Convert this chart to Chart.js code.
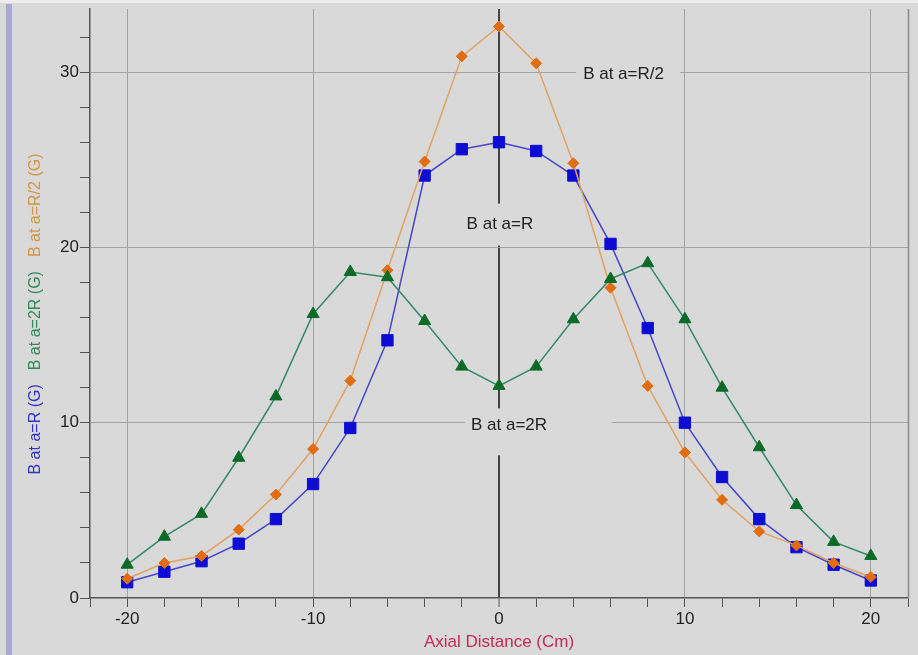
<!DOCTYPE html>
<html>
<head>
<meta charset="utf-8">
<script src="https://cdn.jsdelivr.net/npm/chart.js@4.4.1/dist/chart.umd.min.js"></script>
<style>
  html, body { margin: 0; padding: 0; background: #d9d9d9; }
  #wrap { position: relative; width: 918px; height: 655px; border-top: 3px solid #ececec; box-sizing: border-box; }
  #stripe { position: absolute; left: 6px; top: 1px; width: 6px; height: 651px; background: #a9a9d6; }
  canvas { position: absolute; left: 0; top: -3px; }
</style>
</head>
<body>
<div id="wrap">
  <div id="stripe"></div>
  <canvas id="field" width="918" height="655"></canvas>
</div>
<script>
const distance = [-20, -18, -16, -14, -12, -10, -8, -6, -4, -2, 0, 2, 4, 6, 8, 10, 12, 14, 16, 18, 20];
const fieldR = [0.9, 1.5, 2.1, 3.1, 4.5, 6.5, 9.7, 14.7, 24.1, 25.6, 26.0, 25.5, 24.1, 20.2, 15.4, 10.0, 6.9, 4.5, 2.9, 1.9, 1.0];
const fieldHalfR = [1.1, 2.0, 2.4, 3.9, 5.9, 8.5, 12.4, 18.7, 24.9, 30.9, 32.6, 30.5, 24.8, 17.7, 12.1, 8.3, 5.6, 3.8, 3.0, 2.0, 1.2];
const field2R = [1.9, 3.5, 4.8, 8.0, 11.5, 16.2, 18.6, 18.3, 15.8, 13.2, 12.1, 13.2, 15.9, 18.2, 19.1, 15.9, 12.0, 8.6, 5.3, 3.2, 2.4];
const xTickLabels = [-20, -10, 0, 10, 20];
const yTickLabels = [0, 10, 20, 30];

const font = 'Liberation Sans, Arial, sans-serif';
const bg = '#d9d9d9';

function toPoints(values) {
    return distance.map((x, i) => ({ x: x, y: values[i] }));
}

// labels over the curves, boxes hide the grid behind them
const curveLabels = {
    id: 'curveLabels',
    beforeDatasetsDraw(chart) {
        const { ctx, scales } = chart;
        const items = [
            { text: 'B at a=R/2', x: 6.7, y: 29.9, bx: 6.95, by: 29.9, w: 104, h: 30 },
            { text: 'B at a=R', x: 0.05, y: 21.3, bx: 0, by: 21.3, w: 80, h: 42 },
            { text: 'B at a=2R', x: 0.54, y: 9.85, bx: 2.12, by: 9.48, w: 147, h: 47 }
        ];
        ctx.save();
        ctx.font = '17px ' + font;
        ctx.textAlign = 'center';
        ctx.textBaseline = 'middle';
        items.forEach(it => {
            const bx = scales.x.getPixelForValue(it.bx);
            const by = scales.y.getPixelForValue(it.by);
            ctx.fillStyle = bg;
            ctx.fillRect(bx - it.w / 2, by - it.h / 2, it.w, it.h);
            ctx.fillStyle = '#222';
            ctx.fillText(it.text, scales.x.getPixelForValue(it.x), scales.y.getPixelForValue(it.y));
        });
        ctx.restore();
    },
    afterDraw(chart) {
        const { ctx, chartArea } = chart;
        ctx.save();
        // right frame line
        ctx.strokeStyle = '#8a8a8a';
        ctx.lineWidth = 1.5;
        ctx.beginPath();
        ctx.moveTo(chartArea.right + 0.5, chartArea.top);
        ctx.lineTo(chartArea.right + 0.5, chartArea.bottom);
        ctx.stroke();

        // axis titles
        ctx.font = '17px ' + font;
        ctx.textAlign = 'center';
        ctx.textBaseline = 'middle';
        ctx.fillStyle = '#c8285a';
        ctx.fillText('Axial Distance (Cm)', chart.scales.x.getPixelForValue(0), 642);

        const parts = [
            { text: 'B at a=R (G)', color: '#3434c4' },
            { text: 'B at a=2R (G)', color: '#2e8a5a' },
            { text: 'B at a=R/2 (G)', color: '#d49445' }
        ];
        ctx.font = '16px ' + font;
        const gap = 14;
        let total = 0;
        parts.forEach(p => { p.w = ctx.measureText(p.text).width; total += p.w; });
        total += gap * (parts.length - 1);
        ctx.translate(36, 314);
        ctx.rotate(-Math.PI / 2);
        ctx.textAlign = 'left';
        let pos = -total / 2;
        parts.forEach(p => {
            ctx.fillStyle = p.color;
            ctx.fillText(p.text, pos, 0);
            pos += p.w + gap;
        });
        ctx.restore();
    }
};

const ctx = document.getElementById('field');

new Chart(ctx, {
    type: 'scatter',
    data: {
        datasets: [
            {
                label: 'B at a=2R',
                data: toPoints(field2R),
                showLine: true,
                borderColor: '#33896a',
                borderWidth: 1.5,
                pointStyle: 'triangle',
                pointRadius: 7,
                pointBackgroundColor: '#0b6a26',
                pointBorderColor: '#0b6a26',
                pointBorderWidth: 1
            },
            {
                label: 'B at a=R/2',
                data: toPoints(fieldHalfR),
                showLine: true,
                borderColor: '#e2a262',
                borderWidth: 1.5,
                pointStyle: 'rectRot',
                pointRadius: 5.5,
                pointBackgroundColor: '#e26c12',
                pointBorderColor: '#e26c12',
                pointBorderWidth: 1
            },
            {
                label: 'B at a=R',
                data: toPoints(fieldR),
                showLine: true,
                borderColor: '#4646c8',
                borderWidth: 1.5,
                pointStyle: 'rect',
                pointRadius: 8,
                pointBackgroundColor: '#0c0cd2',
                pointBorderColor: '#0c0cd2',
                pointBorderWidth: 1
            }
        ]
    },
    options: {
        responsive: false,
        animation: false,
        layout: { padding: { left: 0, top: 5, right: 10, bottom: 0 } },
        plugins: {
            legend: { display: false },
            tooltip: { enabled: false }
        },
        scales: {
            x: {
                type: 'linear',
                min: -22,
                max: 22,
                afterFit: scale => { scale.height = 57; },
                border: { display: true, color: '#555', width: 1.5 },
                grid: {
                    color: c => c.tick && c.tick.value === 0 ? '#444' :
                        (c.tick && c.tick.value % 10 === 0 ? '#a2a2a2' : 'rgba(0,0,0,0)'),
                    lineWidth: c => c.tick && c.tick.value === 0 ? 2 : 1,
                    tickColor: '#555',
                    tickWidth: 1,
                    tickLength: 9
                },
                ticks: {
                    stepSize: 2,
                    padding: 2,
                    color: '#222',
                    font: { family: font, size: 17 },
                    maxRotation: 0,
                    autoSkip: false,
                    callback: v => xTickLabels.includes(v) ? String(v) : ''
                }
            },
            y: {
                min: 0,
                max: 33.6,
                afterFit: scale => {
                    scale.width = 90;
                    scale.paddingTop = 0;
                    scale.paddingBottom = 0;
                },
                afterBuildTicks: scale => {
                    scale.ticks = scale.ticks.filter(t => Math.abs(t.value % 2) < 1e-6);
                },
                border: { display: true, color: '#555', width: 1.5 },
                grid: {
                    color: c => c.tick && c.tick.value !== 0 && c.tick.value % 10 === 0 ? '#a2a2a2' : 'rgba(0,0,0,0)',
                    tickColor: '#555',
                    tickWidth: 1,
                    tickLength: 10
                },
                ticks: {
                    stepSize: 2,
                    padding: 1,
                    color: '#222',
                    font: { family: font, size: 17 },
                    autoSkip: false,
                    callback: v => yTickLabels.includes(v) ? String(v) : ''
                }
            }
        }
    },
    plugins: [curveLabels]
});
</script>
</body>
</html>
